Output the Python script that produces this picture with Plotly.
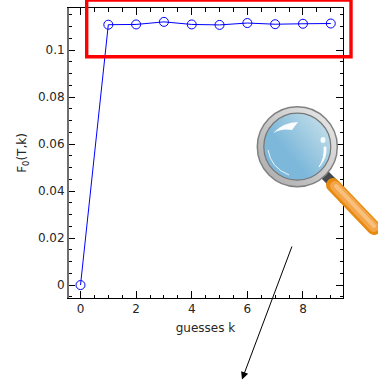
import base64
import plotly.graph_objects as go

W, H = 378, 387
L, R, T, B = 68, 343, 8, 298  # axes box in pixels

guesses = [0, 1, 2, 3, 4, 5, 6, 7, 8, 9]
f0 = [0, 0.1108, 0.1109, 0.1120, 0.1109, 0.1107, 0.1115, 0.1110, 0.1112, 0.1113]
x_ticks = [0, 2, 4, 6, 8]
y_ticks = [0, 0.02, 0.04, 0.06, 0.08, 0.1]
y_labels = ["0", "0.02", "0.04", "0.06", "0.08", "0.1"]


def px(x):
    return (x - L) / (R - L)


def py(y):
    return (B - y) / (B - T)


# magnifier icon pasted over the plot, as in the original
lens = """<svg xmlns="http://www.w3.org/2000/svg" width="128" height="140" viewBox="250 100 128 140">
<defs>
<linearGradient id="ring" x1="0" y1="1" x2="1" y2="0"><stop offset="0" stop-color="#a8a8a8"/><stop offset="1" stop-color="#ececec"/></linearGradient>
<linearGradient id="glass" x1="0.1" y1="0.8" x2="0.95" y2="0.1"><stop offset="0.3" stop-color="#7db8da"/><stop offset="1" stop-color="#c6e0ea"/></linearGradient>
</defs>
<line x1="325" y1="175" x2="334" y2="184" stroke="#46494c" stroke-width="10"/>
<line x1="333" y1="185" x2="374" y2="228" stroke="#e68a10" stroke-width="14" stroke-linecap="round"/>
<line x1="335" y1="186" x2="374" y2="227" stroke="#f3a548" stroke-width="10" stroke-linecap="round"/>
<line x1="336" y1="186" x2="374" y2="226" stroke="#f8c07c" stroke-width="4" stroke-linecap="round"/>
<circle cx="297.3" cy="146.7" r="40" fill="url(#ring)" stroke="#808080" stroke-width="1.5"/>
<circle cx="297.3" cy="146.7" r="33.5" fill="url(#glass)" stroke="#777777" stroke-width="1.2"/>
<path d="M273 133 Q284 122 298 122 L292 130 Q282 128 273 133 Z" fill="#ffffff" opacity="0.95"/>
<path d="M268 150 Q271 168 289 175" fill="none" stroke="#ffffff" stroke-width="1" opacity="0.85"/>
<path d="M326 147 Q327 158 319 167 Q325 158 324 147 Z" fill="#ffffff" stroke="#ffffff" stroke-width="0.8"/>
<ellipse cx="323" cy="140" rx="2.5" ry="3" fill="#ffffff" opacity="0.9"/>
</svg>"""
lens_src = "data:image/svg+xml;base64," + base64.b64encode(lens.encode()).decode()

fig = go.Figure()
fig.add_trace(go.Scatter(
    x=guesses, y=f0, mode="lines+markers",
    line=dict(color="#0000ff", width=1),
    marker=dict(symbol="circle-open", size=9, color="#0000ff", line=dict(width=1, color="#0000ff")),
    showlegend=False, cliponaxis=False,
))

font = dict(family="DejaVu Sans", size=12, color="#262626")
fig.update_layout(
    width=W, height=H,
    margin=dict(l=L, r=W - R, t=T, b=H - B, pad=0),
    paper_bgcolor="white", plot_bgcolor="white",
    font=font,
    hovermode=False,
    images=[dict(source=lens_src, xref="paper", yref="paper",
                 x=px(250), y=py(100), sizex=128 / (R - L), sizey=140 / (B - T),
                 xanchor="left", yanchor="top", sizing="stretch", layer="above")],
    shapes=[
        dict(type="line", xref="paper", yref="paper", x0=0, x1=0, y0=0, y1=1,
             line=dict(color="#6e6e6e", width=2)),
        dict(type="rect", xref="paper", yref="paper",
             x0=px(86.7), x1=px(351), y0=py(56.7), y1=py(0),
             line=dict(color="#ff0000", width=3.4)),
    ],
    annotations=[dict(xref="paper", yref="paper", x=px(242), y=py(379.5),
                      ax=50.5, ay=-134.5, axref="pixel", ayref="pixel", text="",
                      showarrow=True, arrowhead=2, arrowsize=1.5, arrowwidth=1, arrowcolor="#000000")],
)
fig.update_xaxes(
    range=[-0.45, 9.44], tickvals=x_ticks, ticks="inside", ticklen=7, tickcolor="black", tickwidth=1,
    minor=dict(dtick=0.5, tick0=0, ticks="inside", ticklen=3.5, tickcolor="black", tickwidth=1, showgrid=False),
    showline=True, linecolor="black", linewidth=1, mirror="allticks", showgrid=False, zeroline=False,
    title=dict(text="guesses k", font=dict(size=12), standoff=8),
)
fig.update_yaxes(
    range=[-0.0055, 0.1179], tickvals=y_ticks, ticktext=y_labels, ticks="inside", ticklen=7,
    tickcolor="black", tickwidth=1,
    minor=dict(dtick=0.005, tick0=0, ticks="inside", ticklen=3.5, tickcolor="black", tickwidth=1, showgrid=False),
    showline=True, linecolor="black", linewidth=1, mirror="allticks", showgrid=False, zeroline=False,
    title=dict(text="F<sub>0</sub>(T,k)", font=dict(size=12), standoff=8),
)

fig.write_html("out.html", config=dict(displayModeBar=False), post_script="document.body.style.margin='0';")
